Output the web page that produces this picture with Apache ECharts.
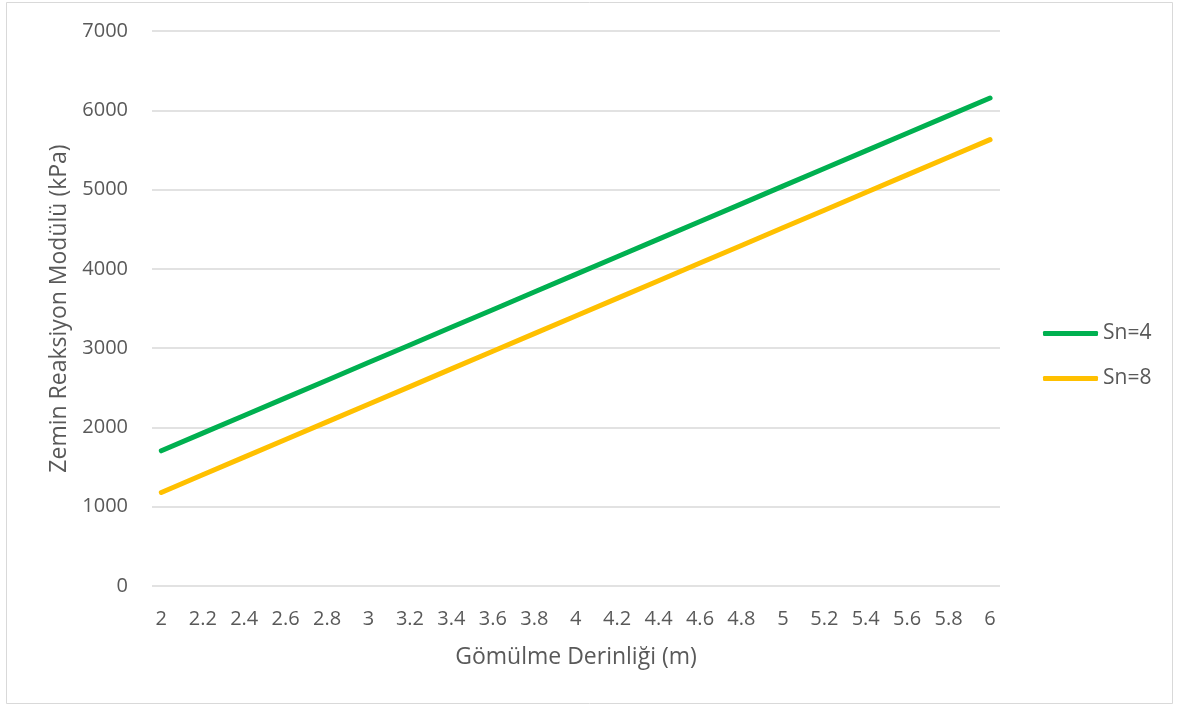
<!DOCTYPE html>
<html>
<head>
<meta charset="utf-8">
<script src="https://cdn.jsdelivr.net/npm/echarts@6/dist/echarts.min.js"></script>
<style>
  html, body { margin: 0; padding: 0; background: #ffffff; }
  #chart { width: 1177px; height: 710px; }
</style>
</head>
<body>
<div id="chart"></div>
<script>
// Gömülme derinliği (m)
const depths = [2, 2.2, 2.4, 2.6, 2.8, 3, 3.2, 3.4, 3.6, 3.8, 4, 4.2, 4.4, 4.6, 4.8, 5, 5.2, 5.4, 5.6, 5.8, 6];
const depthLabels = ['2', '2.2', '2.4', '2.6', '2.8', '3', '3.2', '3.4', '3.6', '3.8', '4', '4.2', '4.4', '4.6', '4.8', '5', '5.2', '5.4', '5.6', '5.8', '6'];

// Zemin reaksiyon modülü (kPa)
const sn4 = [1705, 1928, 2150, 2373, 2595, 2818, 3040, 3263, 3485, 3708, 3930, 4153, 4375, 4598, 4820, 5043, 5265, 5488, 5710, 5933, 6155];
const sn8 = [1180, 1403, 1625, 1848, 2070, 2293, 2515, 2738, 2960, 3183, 3405, 3628, 3850, 4073, 4295, 4518, 4740, 4963, 5185, 5408, 5630];

const seriesNames = ['Sn=4', 'Sn=8'];
const yTicks = [0, 1000, 2000, 3000, 4000, 5000, 6000, 7000];

const FONT = '"Open Sans", sans-serif';
const TEXT = '#595959';
const GRID = '#d9d9d9';

const chart = echarts.init(document.getElementById('chart'), null, { renderer: 'canvas' });

const pairs = vals => depths.map((d, i) => [d, vals[i]]);

chart.setOption({
  animation: false,
  backgroundColor: '#ffffff',
  graphic: [{
    type: 'rect',
    shape: { x: 6.5, y: 2.5, width: 1166, height: 701 },
    style: { fill: 'none', stroke: GRID, lineWidth: 1 },
    silent: true
  }],
  grid: { left: 152, right: 177, top: 31, bottom: 124 },
  legend: {
    orient: 'vertical',
    left: 1038,
    top: 318,
    itemWidth: 55,
    itemHeight: 5,
    itemGap: 24,
    icon: 'roundRect',
    textStyle: { fontFamily: FONT, fontSize: 21, color: TEXT },
    data: seriesNames
  },
  xAxis: {
    type: 'value',
    min: 1.955,
    max: 6.048,
    name: 'Gömülme Derinliği (m)',
    nameLocation: 'middle',
    nameGap: 60,
    nameTextStyle: { fontFamily: FONT, fontSize: 23, color: TEXT },
    axisLine: { show: false },
    axisTick: { show: false },
    splitLine: { show: false },
    axisLabel: {
      customValues: depths,
      formatter: v => depthLabels[depths.indexOf(v)] ?? '',
      fontFamily: FONT, fontSize: 20, color: TEXT, margin: 23
    }
  },
  yAxis: {
    type: 'value',
    min: 0,
    max: 7000,
    interval: 1000,
    name: 'Zemin Reaksiyon Modülü (kPa)',
    nameLocation: 'middle',
    nameGap: 79,
    nameTextStyle: { fontFamily: FONT, fontSize: 23, color: TEXT },
    axisLine: { show: false },
    axisTick: { show: false },
    splitLine: { lineStyle: { color: GRID, width: 1.5 } },
    axisLabel: {
      formatter: v => (yTicks.includes(v) ? String(v) : ''),
      fontFamily: FONT, fontSize: 20, color: TEXT, margin: 24
    }
  },
  series: [
    {
      name: seriesNames[0],
      type: 'line',
      data: pairs(sn4),
      showSymbol: false,
      symbol: 'none',
      color: '#00B050',
      lineStyle: { width: 5, color: '#00B050', cap: 'round', join: 'round' }
    },
    {
      name: seriesNames[1],
      type: 'line',
      data: pairs(sn8),
      showSymbol: false,
      symbol: 'none',
      color: '#FFC000',
      lineStyle: { width: 5, color: '#FFC000', cap: 'round', join: 'round' }
    }
  ]
});
</script>
</body>
</html>
